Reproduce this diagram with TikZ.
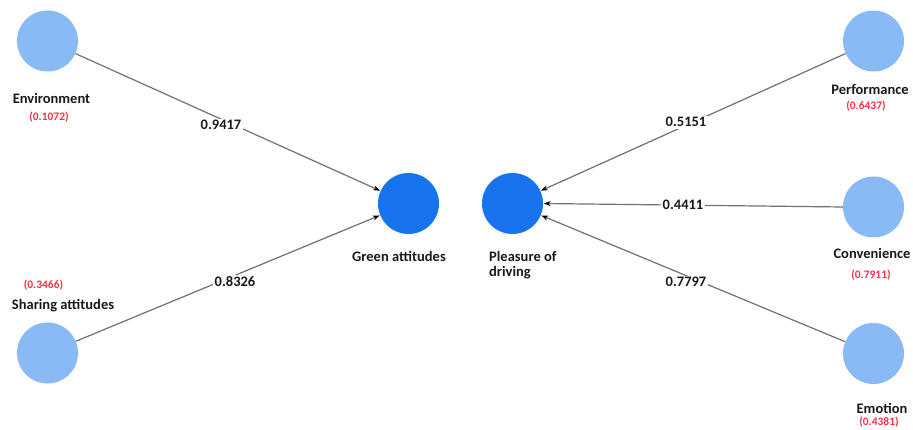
\documentclass[tikz,border=0pt]{standalone}
\usepackage{fontspec}
\setmainfont{Carlito}
\usetikzlibrary{arrows.meta}
\definecolor{lightnode}{RGB}{138,186,246}
\definecolor{darknode}{RGB}{24,116,236}
\definecolor{edgegray}{RGB}{112,112,112}
\definecolor{valred}{RGB}{250,50,70}
\tikzset{
  outer/.style={circle,fill=lightnode,draw=none,minimum size=61pt,inner sep=0pt},
  inner/.style={circle,fill=darknode,draw=none,minimum size=61pt,inner sep=0pt},
  lbl/.style={font=\bfseries\fontsize{14.5}{16}\selectfont,inner sep=0pt,anchor=base,text=black!90},
  val/.style={font=\bfseries\fontsize{11.5}{13}\selectfont,inner sep=0pt,anchor=base,text=valred},
  wlbl/.style={font=\bfseries\fontsize{14.5}{16}\selectfont,inner sep=1.5pt,anchor=base,fill=white,text=black!90},
  conn/.style={draw=edgegray,line width=1.2pt,-{Stealth[black,length=7pt,width=5pt]},shorten >=0.5pt}
}
\begin{document}
\begin{tikzpicture}[x=1pt,y=-1pt]
\useasboundingbox (0,0) rectangle (913,430);
\node[outer] (env) at (47.5,41) {};
\node[outer] (share) at (47.5,353) {};
\node[inner] (green) at (408.5,203.5) {};
\node[inner] (pleas) at (512.5,203.5) {};
\node[outer] (perf) at (873.5,41) {};
\node[outer] (conv) at (873.5,207) {};
\node[outer] (emo) at (873.5,353.5) {};

\draw[conn] (env) -- (green);
\draw[conn] (share) -- (green);
\draw[conn] (perf) -- (pleas);
\draw[conn] (conv.west) -- (pleas.east);
\draw[conn] (emo) -- (pleas);

\node[wlbl] (w1) at (221,130) {0.9417};
\node[wlbl] (w2) at (235,287) {0.8326};
\node[wlbl] (w3) at (686,127) {0.5151};
\node[wlbl] (w4) at (683,210) {0.4411};
\node[wlbl] (w5) at (686,287) {0.7797};

\node[lbl] (tenv) at (51.5,104) {Environment};
\node[val] (venv) at (49,121) {(0.1072)};
\node[lbl] (tshare) at (63,310) {Sharing attitudes};
\node[val] (vshare) at (43.5,289) {(0.3466)};
\node[lbl] (tgreen) at (399,262) {Green attitudes};
\node[lbl,anchor=base west] (tpleas) at (489,262) {Pleasure of};
\node[lbl,anchor=base west] (tpleas2) at (489,277) {driving};
\node[lbl] (tperf) at (870,95) {Performance};
\node[val] (vperf) at (866,110) {(0.6437)};
\node[lbl] (tconv) at (872,259) {Convenience};
\node[val] (vconv) at (871,279) {(0.7911)};
\node[lbl] (temo) at (882,413) {Emotion};
\node[val] (vemo) at (879,425) {(0.4381)};
\end{tikzpicture}
\end{document}
